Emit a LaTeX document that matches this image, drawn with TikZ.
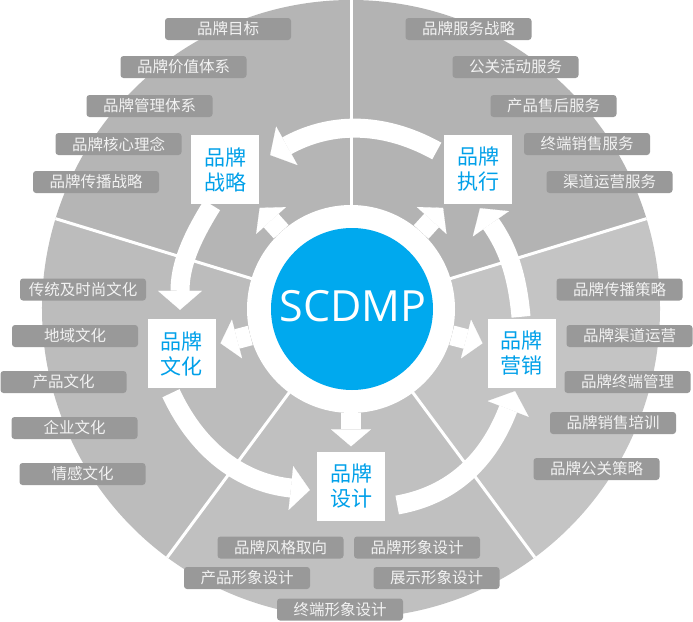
\documentclass[tikz,border=0pt]{standalone}
\usepackage{fontspec}
\setmainfont{Open Sans}
\newfontfamily\cjk{Noto Sans CJK SC}
\usetikzlibrary{arrows.meta}

\definecolor{secStr}{RGB}{181,181,181}
\definecolor{secExe}{RGB}{179,179,179}
\definecolor{secCul}{RGB}{188,188,188}
\definecolor{secDes}{RGB}{192,192,192}
\definecolor{secMkt}{RGB}{196,196,196}
\definecolor{tagfill}{RGB}{153,153,153}
\definecolor{hubblue}{RGB}{0,169,238}
\definecolor{stationblue}{RGB}{0,160,233}

\begin{document}
\begin{tikzpicture}[
    x=1pt, y=1pt,
    tag/.style={fill=tagfill, rounded corners=3pt, minimum width=126pt,
        minimum height=22pt, inner sep=0pt, text=white!95!black,
        font=\cjk\fontsize{15.5}{18}\selectfont},
    station/.style={fill=white, minimum width=68pt, minimum height=69pt,
        inner sep=0pt, align=center, text=stationblue,
        font=\cjk\fontsize{21}{25}\selectfont},
    ringarrow/.style={white, line width=19pt,
        -{Triangle[width=44pt,length=19pt,line width=0.1pt]}},
    spoke/.style={white, line width=20pt, shorten >=5pt,
        -{Triangle[width=40pt,length=17pt,line width=0.1pt]}},
    divider/.style={white, line width=3pt},
 ]
    \path[use as bounding box, fill=white] (0,0) rectangle (693,-621);
    \coordinate (O) at (351,-309);

    % the five sectors
    \fill[secExe] (O) -- ++(17:309) arc[start angle=17, end angle=90, radius=309] -- cycle;
    \fill[secStr] (O) -- ++(90:309) arc[start angle=90, end angle=163, radius=309] -- cycle;
    \fill[secCul] (O) -- ++(163:309) arc[start angle=163, end angle=233.5, radius=309] -- cycle;
    \fill[secDes] (O) -- ++(233.5:309) arc[start angle=233.5, end angle=306.5, radius=309] -- cycle;
    \fill[secMkt] (O) -- ++(306.5:309) arc[start angle=306.5, end angle=377, radius=309] -- cycle;
    \draw[divider] (O) -- ++(17:309);
    \draw[divider] (O) -- ++(90:309);
    \draw[divider] (O) -- ++(163:309);
    \draw[divider] (O) -- ++(233.5:309);
    \draw[divider] (O) -- ++(306.5:309);

    % hub
    \node[circle, fill=white, minimum size=208pt, inner sep=0pt] (hub) at (O) {};
    \node[circle, fill=hubblue, minimum size=162pt, inner sep=0pt] (core) at (352,-309) {};
    \node[text=white, font=\fontsize{43}{43}\selectfont] (name) at (353,-306.5) {SCDMP};

    % strategy tags
    \node[tag] (S1) at (228,-29)   {品牌目标};
    \node[tag] (S2) at (183.5,-67) {品牌价值体系};
    \node[tag] (S3) at (149.5,-106) {品牌管理体系};
    \node[tag] (S4) at (118.5,-144) {品牌核心理念};
    \node[tag] (S5) at (96,-182)   {品牌传播战略};

    % execution tags
    \node[tag] (E1) at (468.5,-29) {品牌服务战略};
    \node[tag] (E2) at (515.5,-67) {公关活动服务};
    \node[tag] (E3) at (553.5,-106) {产品售后服务};
    \node[tag] (E4) at (587,-144)  {终端销售服务};
    \node[tag] (E5) at (609.5,-182) {渠道运营服务};

    % marketing tags
    \node[tag] (M1) at (619.5,-289.5) {品牌传播策略};
    \node[tag] (M2) at (629.5,-336) {品牌渠道运营};
    \node[tag] (M3) at (627.5,-382) {品牌终端管理};
    \node[tag] (M4) at (613,-423)   {品牌销售培训};
    \node[tag] (M5) at (596.5,-469) {品牌公关策略};

    % culture tags
    \node[tag] (C1) at (83,-289.5) {传统及时尚文化};
    \node[tag] (C2) at (75,-336)   {地域文化};
    \node[tag] (C3) at (63.5,-382) {产品文化};
    \node[tag] (C4) at (74.5,-428) {企业文化};
    \node[tag] (C5) at (82.5,-474) {情感文化};

    % design tags
    \node[tag] (D1) at (280.5,-547.5) {品牌风格取向};
    \node[tag] (D2) at (247,-578)     {产品形象设计};
    \node[tag] (D3) at (340,-609.5)   {终端形象设计};
    \node[tag] (D4) at (417,-547.5)   {品牌形象设计};
    \node[tag] (D5) at (436.5,-578)   {展示形象设计};

    % stations
    \node[station] (Str) at (225,-169.5) {品牌\\战略};
    \node[station] (Exe) at (478,-169.5) {品牌\\执行};
    \node[station] (Cul) at (181.5,-353.5) {品牌\\文化};
    \node[station] (Mkt) at (521.5,-353.5) {品牌\\营销};
    \node[station] (Des) at (351,-486) {品牌\\设计};

    % cycle
    \draw[ringarrow] ([xshift=-7pt,yshift=18.5pt]Exe.west)
        to[out=151,in=29] ([xshift=11pt,yshift=14.5pt]Str.east);
    \draw[ringarrow] ([xshift=-13pt,yshift=-1pt]Str.south)
        to[out=238,in=90] ([xshift=-1.5pt,yshift=9pt]Cul.north);
    \draw[ringarrow] ([xshift=-10.5pt,yshift=-5pt]Cul.south)
        to[out=295,in=174] ([xshift=-7pt,yshift=-4pt]Des.west);
    \draw[ringarrow] ([xshift=12pt,yshift=-19pt]Des.east)
        to[out=10,in=249] ([xshift=-6.5pt,yshift=-3pt]Mkt.south);
    \draw[ringarrow] ([xshift=-0.5pt,yshift=2pt]Mkt.north)
        to[out=95,in=305] ([xshift=2pt,yshift=-4pt]Exe.south);

    % spokes
    \draw[spoke] (hub) -- (Str);
    \draw[spoke] (hub) -- (Exe);
    \draw[spoke] (hub) -- (Cul);
    \draw[spoke] (hub) -- (Mkt);
    \draw[spoke] (hub) -- (Des);
\end{tikzpicture}
\end{document}
